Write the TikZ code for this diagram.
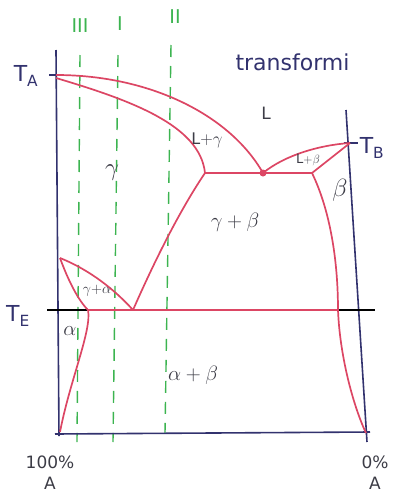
\documentclass[tikz,border=0pt]{standalone}
\usepackage{fontspec}
\setmainfont{DejaVu Sans}
\begin{document}
\begin{tikzpicture}[x=1pt,y=-1pt,
  axis/.style={draw=axisblue,line width=1.6pt},
  phase/.style={draw=phasered,line width=1.7pt},
  guide/.style={draw=guidegreen,line width=1.4pt,dash pattern=on 12pt off 9pt},
  lbl/.style={text=inkgray,font=\fontsize{17}{20}\selectfont},
  tlbl/.style={text=axisblue,font=\fontsize{22}{26}\selectfont},
  glbl/.style={text=guidegreen,font=\fontsize{19}{22}\selectfont}]
\definecolor{axisblue}{RGB}{50,50,110}
\definecolor{phasered}{RGB}{220,70,100}
\definecolor{guidegreen}{RGB}{60,180,80}
\definecolor{inkgray}{RGB}{60,60,70}
\useasboundingbox (0,0) rectangle (395,496);
% key points
\coordinate (TA) at (56,75);
\coordinate (TB) at (350,143);
\coordinate (E) at (263,173);
\coordinate (P1) at (205,173);
\coordinate (P2) at (312,173);
\coordinate (B1) at (338,310);
\coordinate (Ed) at (133,310);
\coordinate (Ea) at (88,310);
\coordinate (G) at (60,258);
\coordinate (R) at (366,433);
% guide lines
\draw[guide] (80,55) -- (77,442);
\draw[guide] (118,55) -- (113,442);
\draw[guide] (171,45) -- (165,433);
\node[glbl] (g3) at (80,26) {III};
\node[glbl] (g1) at (120,24) {I};
\node[glbl] (g2) at (175,17) {II};
% axes
\draw[axis] (56,50) -- (59,436);
\draw[axis] (55,434) -- (370,432);
\draw[axis] (346,110) -- (367,442);
\draw[axis] (49,75) -- (63,75);
\draw[axis] (344,143) -- (358,143);
\draw[draw=black,line width=1.1pt] (47,310) -- (375,310);
% phase boundaries
\draw[phase] (TA) .. controls (150,75) and (230,115) .. (E);
\draw[phase] (56,78) .. controls (130,100) and (200,125) .. (P1);
\draw[phase] (P1) -- (P2);
\draw[phase] (E) .. controls (285,155) and (320,145) .. (TB);
\draw[phase] (P2) -- (TB);
\draw[phase] (P2) .. controls (330,210) and (338,260) .. (B1);
\draw[phase] (B1) .. controls (340,360) and (355,410) .. (R);
\draw[phase] (P1) .. controls (180,210) and (155,260) .. (Ed);
\draw[phase] (Ea) -- (B1);
\draw[phase] (G) .. controls (90,270) and (115,290) .. (Ed);
\draw[phase] (G) .. controls (68,280) and (78,300) .. (Ea);
\draw[phase] (Ea) .. controls (92,330) and (70,380) .. (60,432);
\fill[phasered] (E) circle (3.5pt);
% axis labels
\node[tlbl] (lTA) at (26,76) {T$_{\mathrm{A}}$};
\node[tlbl] (lTB) at (372,148) {T$_{\mathrm{B}}$};
\node[tlbl] (lTE) at (18,316) {T$_{\mathrm{E}}$};
\node[lbl,align=center] (l100) at (50,473) {100\%\\[1pt]A};
\node[lbl,align=center] (l0) at (375,473) {0\%\\[1pt]A};
% phase labels
\node[lbl] (lL) at (266,113) {L};
\node[lbl,font=\fontsize{16}{18}\selectfont] (lLg) at (207,140) {L$+\gamma$};
\node[lbl,font=\fontsize{13}{15}\selectfont] (lLb) at (308,160) {L$+\beta$};
\node[lbl,font=\fontsize{24}{28}\selectfont] (lg) at (112,173) {$\gamma$};
\node[lbl,font=\fontsize{22}{26}\selectfont] (lgb) at (235,222) {$\gamma+\beta$};
\node[lbl,font=\fontsize{24}{28}\selectfont] (lb) at (340,190) {$\beta$};
\node[lbl,font=\fontsize{14}{16}\selectfont] (lga) at (97,291) {$\gamma{+}\alpha$};
\node[lbl,font=\fontsize{22}{26}\selectfont] (la) at (70,331) {$\alpha$};
\node[lbl,font=\fontsize{22}{26}\selectfont] (lab) at (193,375) {$\alpha+\beta$};
% cut-off note
\begin{scope}
\clip (220,30) rectangle (395,90);
\node[text=axisblue,font=\fontsize{22}{26}\selectfont,anchor=west] (note) at (232,62) {transformi};
\end{scope}
\end{tikzpicture}
\end{document}
